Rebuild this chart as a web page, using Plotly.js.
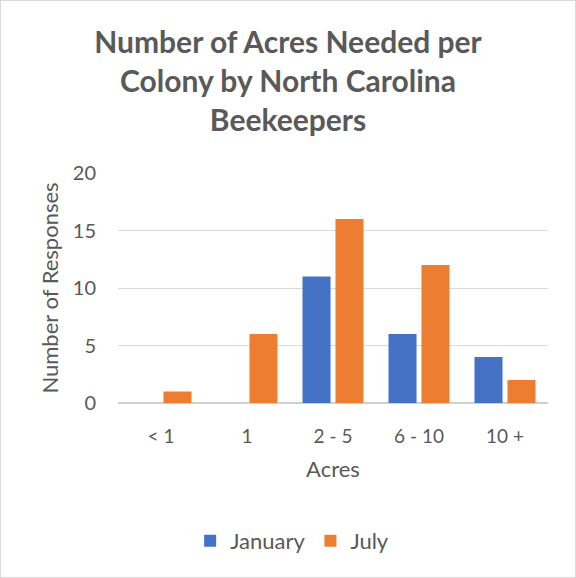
<!DOCTYPE html>
<html>
<head>
<meta charset="utf-8">
<script src="https://cdn.plot.ly/plotly-3.0.1.min.js"></script>
<style>
  html, body { margin: 0; padding: 0; background: #ffffff; }
  #chart { width: 574px; height: 576px; border: 1px solid #d9d9d9; }
</style>
</head>
<body>
<div id="chart"></div>
<script>
const categories = ["< 1", "1", "2 - 5", "6 - 10", "10 +"];
const januaryValues = [0, 0, 11, 6, 4];
const julyValues = [1, 6, 16, 12, 2];
const yTickValues = [0, 5, 10, 15, 20];

const FONT = "Lato, 'Open Sans', sans-serif";
const GREY = "#595959";

const traces = [
  {
    type: "bar", name: "January", x: categories, y: januaryValues,
    marker: { color: "#4472C4", line: { width: 0 } },
    hoverinfo: "x+y+name"
  },
  {
    type: "bar", name: "July", x: categories, y: julyValues,
    marker: { color: "#ED7D31", line: { width: 0 } },
    hoverinfo: "x+y+name"
  }
];

const layout = {
  width: 574, height: 576,
  paper_bgcolor: "#ffffff", plot_bgcolor: "#ffffff",
  margin: { l: 117, r: 27, t: 172, b: 174, autoexpand: false },
  barmode: "group", bargap: 0.233, bargroupgap: 0.15,
  font: { family: FONT, color: GREY, size: 19 },
  title: {
    text: "<b>Number of Acres Needed per<br>Colony by North Carolina<br>Beekeepers</b>",
    font: { family: FONT, size: 30, color: GREY },
    x: 0.5, xanchor: "center", xref: "container",
    y: 1 - 52 / 576, yanchor: "top", yref: "container"
  },
  xaxis: {
    type: "category",
    showgrid: false, showline: false, zeroline: false,
    ticks: "", ticklabelstandoff: 20,
    tickfont: { family: FONT, size: 19, color: GREY },
    title: { text: "Acres", font: { family: FONT, size: 22, color: GREY }, standoff: 15 }
  },
  yaxis: {
    range: [0, 20], tickvals: yTickValues, ticktext: yTickValues.map(String),
    showgrid: true, gridcolor: "#d9d9d9", gridwidth: 1,
    zeroline: true, zerolinecolor: "#d0d0d0", zerolinewidth: 1.5,
    showline: false, ticks: "", ticklabelstandoff: 21,
    tickfont: { family: FONT, size: 20, color: GREY },
    title: { text: "Number of Responses", font: { family: FONT, size: 22, color: GREY }, standoff: 8 }
  },
  showlegend: true,
  legend: {
    orientation: "h", x: 0.405, xanchor: "center", y: -0.6, yanchor: "middle",
    font: { family: FONT, size: 22, color: GREY },
    itemwidth: 30, traceorder: "normal"
  }
};

Plotly.newPlot("chart", traces, layout, { displayModeBar: false, staticPlot: true });
</script>
</body>
</html>
